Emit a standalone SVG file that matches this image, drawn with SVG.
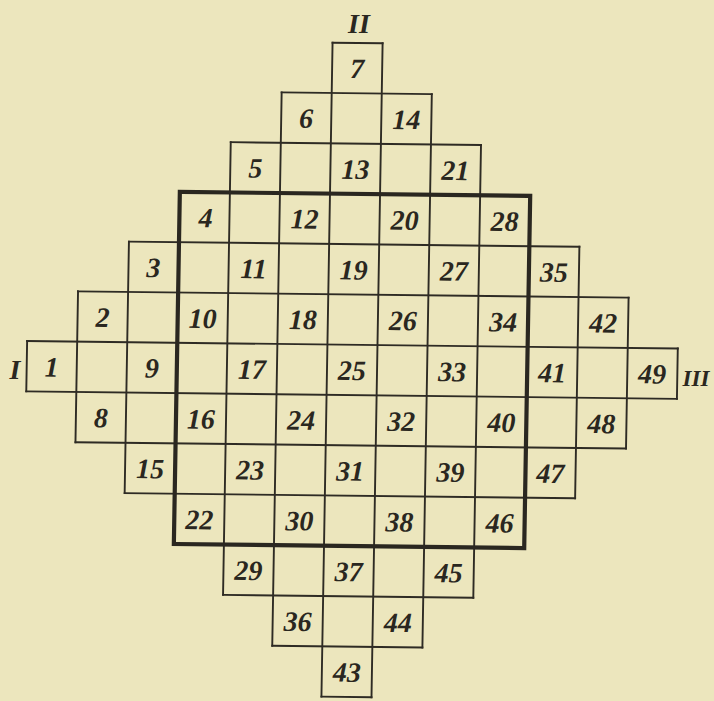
<svg xmlns="http://www.w3.org/2000/svg" width="714" height="701" viewBox="0 0 714 701">
<style>
.grid{fill:none;stroke:#2e2b24;stroke-width:1.9;stroke-linecap:square}
.frame{fill:none;stroke:#2a2720;stroke-width:4.2}
.n{font-family:"Liberation Serif","DejaVu Serif",serif;font-style:italic;font-weight:bold;font-size:28px;fill:#2a2720;text-anchor:middle}
.r{font-family:"Liberation Serif","DejaVu Serif",serif;font-style:italic;font-weight:bold;font-size:28px;fill:#2a2720;text-anchor:middle}
.r3{font-family:"Liberation Serif","DejaVu Serif",serif;font-style:italic;font-weight:bold;font-size:23px;fill:#2a2720;text-anchor:middle}
</style>
<rect x="0" y="0" width="714" height="701" fill="#ece6bd"/>
<g id="diagram" transform="matrix(1 0.0115 -0.017 1 6.29 -4.05)">
<g id="connectors">
<path class="grid" d="M327,43H377.05 M276.95,93.3H427.1 M226.9,143.6H477.15 M176.85,193.9H527.2 M126.8,244.2H577.25 M76.75,294.5H627.3 M26.7,344.8H677.35 M26.7,395.1H677.35 M76.75,445.4H627.3 M126.8,495.7H577.25 M176.85,546H527.2 M226.9,596.3H477.15 M276.95,646.6H427.1 M327,696.9H377.05"/>
<path class="grid" d="M26.7,344.8V395.1 M76.75,294.5V445.4 M126.8,244.2V495.7 M176.85,193.9V546 M226.9,143.6V596.3 M276.95,93.3V646.6 M327,43V696.9 M377.05,43V696.9 M427.1,93.3V646.6 M477.15,143.6V596.3 M527.2,193.9V546 M577.25,244.2V495.7 M627.3,294.5V445.4 M677.35,344.8V395.1"/>
<rect id="square-frame" class="frame" x="176.85" y="193.9" width="350.35" height="352.1"/>
</g>
<g id="cell-1"><text class="n" x="51.7" y="380">1</text></g>
<g id="cell-2"><text class="n" x="101.8" y="329.7">2</text></g>
<g id="cell-3"><text class="n" x="151.8" y="279.4">3</text></g>
<g id="cell-4"><text class="n" x="203" y="229.1">4</text></g>
<g id="cell-5"><text class="n" x="251.9" y="178.8">5</text></g>
<g id="cell-6"><text class="n" x="302" y="128.5">6</text></g>
<g id="cell-7"><text class="n" x="352" y="78.2">7</text></g>
<g id="cell-8"><text class="n" x="101.8" y="430.3">8</text></g>
<g id="cell-9"><text class="n" x="151.8" y="380">9</text></g>
<g id="cell-10"><text class="n" x="201.9" y="329.7">10</text></g>
<g id="cell-11"><text class="n" x="251.9" y="279.4">11</text></g>
<g id="cell-12"><text class="n" x="302" y="229.1">12</text></g>
<g id="cell-13"><text class="n" x="352" y="178.8">13</text></g>
<g id="cell-14"><text class="n" x="402.1" y="128.5">14</text></g>
<g id="cell-15"><text class="n" x="151.8" y="480.6">15</text></g>
<g id="cell-16"><text class="n" x="201.9" y="430.3">16</text></g>
<g id="cell-17"><text class="n" x="251.9" y="380">17</text></g>
<g id="cell-18"><text class="n" x="302" y="329.7">18</text></g>
<g id="cell-19"><text class="n" x="352" y="279.4">19</text></g>
<g id="cell-20"><text class="n" x="402.1" y="229.1">20</text></g>
<g id="cell-21"><text class="n" x="452.1" y="178.8">21</text></g>
<g id="cell-22"><text class="n" x="201.9" y="530.9">22</text></g>
<g id="cell-23"><text class="n" x="251.9" y="480.6">23</text></g>
<g id="cell-24"><text class="n" x="302" y="430.3">24</text></g>
<g id="cell-25"><text class="n" x="352" y="380">25</text></g>
<g id="cell-26"><text class="n" x="402.1" y="329.7">26</text></g>
<g id="cell-27"><text class="n" x="452.1" y="279.4">27</text></g>
<g id="cell-28"><text class="n" x="502.2" y="229.1">28</text></g>
<g id="cell-29"><text class="n" x="251.9" y="581.2">29</text></g>
<g id="cell-30"><text class="n" x="302" y="530.9">30</text></g>
<g id="cell-31"><text class="n" x="352" y="480.6">31</text></g>
<g id="cell-32"><text class="n" x="402.1" y="430.3">32</text></g>
<g id="cell-33"><text class="n" x="452.1" y="380">33</text></g>
<g id="cell-34"><text class="n" x="502.2" y="329.7">34</text></g>
<g id="cell-35"><text class="n" x="552.2" y="279.4">35</text></g>
<g id="cell-36"><text class="n" x="302" y="631.5">36</text></g>
<g id="cell-37"><text class="n" x="352" y="581.2">37</text></g>
<g id="cell-38"><text class="n" x="402.1" y="530.9">38</text></g>
<g id="cell-39"><text class="n" x="452.1" y="480.6">39</text></g>
<g id="cell-40"><text class="n" x="502.2" y="430.3">40</text></g>
<g id="cell-41"><text class="n" x="552.2" y="380">41</text></g>
<g id="cell-42"><text class="n" x="602.3" y="329.7">42</text></g>
<g id="cell-43"><text class="n" x="352" y="681.8">43</text></g>
<g id="cell-44"><text class="n" x="402.1" y="631.5">44</text></g>
<g id="cell-45"><text class="n" x="452.1" y="581.2">45</text></g>
<g id="cell-46"><text class="n" x="502.2" y="530.9">46</text></g>
<g id="cell-47"><text class="n" x="552.2" y="480.6">47</text></g>
<g id="cell-48"><text class="n" x="602.3" y="430.3">48</text></g>
<g id="cell-49"><text class="n" x="652.3" y="380">49</text></g>
</g>
<g id="labels">
<text class="r" x="15" y="379">I</text>
<text class="r" x="359" y="33">II</text>
<text class="r3" x="696" y="386">III</text>
</g>
</svg>
